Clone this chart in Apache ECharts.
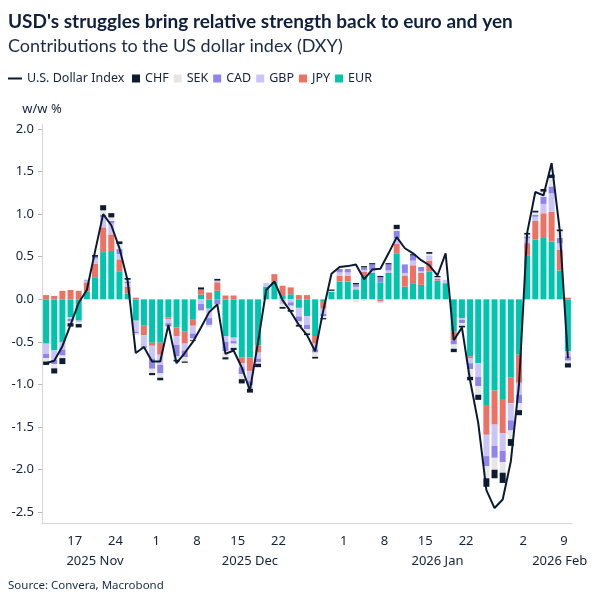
<!DOCTYPE html>
<html>
<head>
<meta charset="utf-8">
<script src="https://cdn.jsdelivr.net/npm/echarts@6/dist/echarts.min.js"></script>
<style>
  html, body { margin: 0; padding: 0; background: #fff; }
  #chart { width: 604px; height: 604px; }
</style>
</head>
<body>
<div id="chart"></div>
<script>
// business days shown on the chart
const dates = [
  '2025-11-11', '2025-11-12', '2025-11-13', '2025-11-14', '2025-11-17', '2025-11-18', '2025-11-19',
  '2025-11-20', '2025-11-21', '2025-11-24', '2025-11-25', '2025-11-26', '2025-11-27', '2025-11-28',
  '2025-12-01', '2025-12-02', '2025-12-03', '2025-12-04', '2025-12-05', '2025-12-08', '2025-12-09',
  '2025-12-10', '2025-12-11', '2025-12-12', '2025-12-15', '2025-12-16', '2025-12-17', '2025-12-18',
  '2025-12-19', '2025-12-22', '2025-12-23', '2025-12-24', '2025-12-25', '2025-12-26', '2025-12-29',
  '2025-12-30', '2025-12-31', '2026-01-01', '2026-01-02', '2026-01-05', '2026-01-06', '2026-01-07',
  '2026-01-08', '2026-01-09', '2026-01-12', '2026-01-13', '2026-01-14', '2026-01-15', '2026-01-16',
  '2026-01-19', '2026-01-20', '2026-01-21', '2026-01-22', '2026-01-23', '2026-01-26', '2026-01-27',
  '2026-01-28', '2026-01-29', '2026-01-30', '2026-02-02', '2026-02-03', '2026-02-04', '2026-02-05',
  '2026-02-06', '2026-02-09'
];

// dates that get a tick and a day label
const tickDates = [
  '2025-11-17', '2025-11-24', '2025-12-01', '2025-12-08', '2025-12-15', '2025-12-22',
  '2026-01-01', '2026-01-08', '2026-01-15', '2026-01-22', '2026-02-02', '2026-02-09'
];
// month captions (second label row)
const monthAnchors = ['2025-11-19', '2025-12-16', '2026-01-16', '2026-02-06'];
const monthNames = ['2025 Nov', '2025 Dec', '2026 Jan', '2026 Feb'];
const yTicks = [-2.5, -2, -1.5, -1, -0.5, 0, 0.5, 1, 1.5, 2];

// contributions, w/w %
const eur = [
  -0.52, -0.60, -0.50, -0.21, -0.25, 0.09, 0.26, 0.555, 0.567, 0.33, 0.07, -0.25, -0.31, -0.51,
  -0.51, -0.215, -0.33, -0.38, -0.24, 0.055, -0.11, 0.10, -0.43, -0.45, -0.68, -0.68, -0.54, 0.15,
  0.21, 0.05, 0.06, -0.10, -0.20, -0.43, -0.02, 0.09, 0.21,
  0.21, 0.117, 0.285, 0.31, 0.20, 0.31, 0.54, 0.15, 0.19, 0.17, 0.325, 0.22, 0.19, -0.38, -0.22,
  -0.67, -0.75, -1.24, -1.07, -1.17, -0.92, -0.65,
  0.51, 0.70, 0.73, 0.68, 0.34, -0.61
];
const jpy = [
  0.05, 0.04, 0.10, 0.11, 0.10, 0.11, 0.16, 0.29, 0.195, 0.14, 0.08, 0.02, -0.11, -0.035,
  -0.14, -0.015, -0.105, -0.14, -0.07, 0.06, 0.08, 0.10, 0.045, 0.045, -0.07, -0.16, -0.086, 0,
  0.086, 0.11, 0.08, 0.05, 0.05, -0.09, -0.09, 0, 0.066,
  0.066, 0, 0.04, 0, -0.02, 0, 0.11, 0.13, 0.21, 0.14, 0.13, 0.02, 0, -0.10, 0,
  -0.02, 0, -0.35, -0.40, -0.40, -0.30, -0.33,
  0.15, 0.22, 0.28, 0.35, 0.24, 0.02
];
const gbp = [
  -0.12, -0.11, -0.09, -0.02, -0.02, 0.02, 0.06, 0.12, 0.13, 0.06, 0.04, -0.13, -0.13, -0.15,
  -0.12, -0.05, -0.10, -0.08, -0.09, -0.055, -0.11, 0.02, -0.07, -0.04, -0.047, -0.12, -0.07, 0.04,
  0, -0.06, -0.035, -0.10, -0.10, -0.065, -0.06, 0, 0.04,
  0.04, 0.03, 0.02, 0.03, -0.02, 0.03, 0.07, 0.03, 0.055, 0.02, 0.06, 0.02, 0.04, 0, -0.02,
  -0.06, -0.16, -0.25, -0.25, -0.21, -0.20, -0.14,
  0.06, 0.05, 0.11, 0.215, 0.08, -0.06
];
const cad = [
  -0.05, -0.05, -0.07, -0.03, 0, 0.01, 0.02, 0.03, 0.03, 0.06, 0.02, -0.02, -0.02, -0.12,
  -0.10, -0.04, -0.135, -0.08, -0.06, -0.075, -0.08, -0.06, -0.11, -0.03, -0.08, -0.05, -0.04, 0,
  0, 0, -0.04, -0.06, -0.05, -0.04, -0.03, 0, 0.04,
  0.04, 0.03, 0.03, 0.07, 0.06, 0.07, 0.085, 0.10, 0.06, 0.05, 0, 0, 0, -0.05, -0.04,
  -0.07, -0.11, -0.12, -0.14, -0.13, -0.12, -0.10,
  0.02, 0.02, 0.085, 0.08, 0.06, -0.05
];
const sek = [
  -0.04, -0.05, -0.03, -0.02, -0.02, 0, 0, 0.05, 0.04, 0.06, 0.02, -0.02, -0.02, -0.05,
  -0.05, -0.01, -0.04, -0.05, -0.02, 0, -0.03, 0, -0.07, -0.05, -0.06, -0.04, -0.02, 0,
  0, -0.03, -0.05, -0.04, -0.05, -0.05, -0.02, 0.01, 0,
  0, -0.03, -0.02, 0, 0, 0, 0.02, 0, 0, 0, 0.02, 0, 0, -0.05, -0.03,
  -0.09, -0.10, -0.14, -0.14, -0.125, -0.10, -0.08,
  0.02, 0.03, 0.06, 0.10, 0.08, -0.03
];
const chf = [
  -0.04, -0.06, -0.07, -0.04, -0.04, 0, 0.02, 0.06, 0.05, 0.03, 0.02, 0, 0, -0.025,
  -0.03, 0, -0.02, -0.015, -0.01, 0.025, 0, 0.02, -0.025, -0.025, -0.05, -0.045, -0.04, 0,
  0, -0.02, -0.02, -0.02, -0.02, -0.02, -0.015, 0.015, 0,
  0, 0.015, 0.015, 0.015, 0.015, 0.015, 0.05, 0, 0.015, 0, 0.02, 0.015, 0, -0.04, -0.02,
  -0.04, -0.06, -0.10, -0.10, -0.12, -0.08, -0.06,
  0.02, 0.02, 0.03, 0.04, 0.02, -0.05
];
// U.S. Dollar Index, w/w %
const dxy = [
  -0.75, -0.72, -0.55, -0.30, -0.04, 0.11, 0.56, 1.00, 0.87, 0.60, 0.22, -0.63, -0.56, -0.73,
  -0.73, -0.30, -0.75, -0.63, -0.50, -0.33, -0.15, -0.06, -0.64, -0.60, -0.80, -1.07, -0.50, 0.11,
  0.21, -0.01, -0.145, -0.30, -0.42, -0.61, -0.13, 0.30, 0.38,
  0.39, 0.41, 0.235, 0.35, 0.36, 0.54, 0.73, 0.60, 0.54, 0.46, 0.40, 0.28, 0.54, -0.48, -0.33,
  -0.95, -1.45, -2.24, -2.45, -2.35, -1.90, -1.00,
  0.78, 1.26, 1.22, 1.60, 0.81, -0.69
];

const textColor = '#13223d';
const font = 'Noto Sans';
const headFont = 'Lato';

function barSeries(name, data, color) {
  return {
    name: name,
    type: 'bar',
    stack: 'contrib',
    barWidth: 6,
    data: data,
    itemStyle: { color: color },
  };
}

const myChart = echarts.init(document.getElementById('chart'));
myChart.setOption({
  animation: false,
  textStyle: { fontFamily: font, color: textColor },
  title: [
    {
      text: "USD's struggles bring relative strength back to euro and yen",
      subtext: 'Contributions to the US dollar index (DXY)',
      left: 8,
      top: 12,
      padding: 0,
      itemGap: 6,
      textStyle: { fontFamily: headFont, fontSize: 19, fontWeight: 'bold', color: '#0f1f3d' },
      subtextStyle: { fontFamily: headFont, fontSize: 18, color: '#1b2b47' },
    },
    {
      text: 'Source: Convera, Macrobond',
      left: 8,
      top: 580,
      padding: 0,
      textStyle: { fontFamily: font, fontSize: 11.5, fontWeight: 'normal', color: '#1b2b47' },
    },
  ],
  legend: [
    {
      data: ['U.S. Dollar Index'],
      left: 8,
      top: 72,
      padding: 0,
      icon: 'rect',
      itemWidth: 14,
      itemHeight: 2,
      textStyle: { fontFamily: font, fontSize: 12.5, color: textColor },
    },
    {
      data: ['CHF', 'SEK', 'CAD', 'GBP', 'JPY', 'EUR'],
      left: 132,
      top: 72,
      padding: 0,
      icon: 'rect',
      itemWidth: 8,
      itemHeight: 8,
      itemGap: 5,
      textStyle: { fontFamily: font, fontSize: 12.5, color: textColor },
    },
  ],
  grid: {
    left: 42,
    right: 32,
    top: 124.7,
    bottom: 80.6,
    containLabel: false,
    outerBoundsMode: 'none',
  },
  xAxis: [
    {
      type: 'category',
      data: dates,
      boundaryGap: true,
      axisLine: { onZero: false, lineStyle: { color: '#d6d6d6' } },
      axisTick: {
        interval: (i, v) => tickDates.includes(v),
        length: 5,
        lineStyle: { color: '#b5b5b5' },
      },
      axisLabel: {
        interval: (i, v) => tickDates.includes(v),
        formatter: (v) => String(Number(v.slice(8))),
        padding: [0, 8, 0, 0],
        margin: 11,
        fontSize: 13,
        color: textColor,
      },
      splitLine: { show: false },
    },
    {
      type: 'category',
      data: dates,
      position: 'bottom',
      offset: 20,
      axisLine: { show: false, onZero: false },
      axisTick: { show: false },
      axisLabel: {
        interval: (i, v) => monthAnchors.includes(v),
        formatter: (v) => monthNames[monthAnchors.indexOf(v)],
        margin: 11,
        fontSize: 13,
        color: textColor,
      },
      splitLine: { show: false },
    },
  ],
  yAxis: {
    type: 'value',
    min: -2.63,
    max: 2.05,
    name: 'w/w %',
    nameLocation: 'end',
    nameGap: 9,
    nameTextStyle: { fontFamily: font, fontSize: 13, color: textColor, align: 'center' },
    axisLine: { show: true, lineStyle: { color: '#d6d6d6' } },
    axisTick: { show: true, length: 4, customValues: yTicks, lineStyle: { color: '#b5b5b5' } },
    axisLabel: {
      customValues: yTicks,
      formatter: (v) => v.toFixed(1),
      fontSize: 13,
      margin: 8,
      color: textColor,
    },
    splitLine: { show: false },
  },
  series: [
    barSeries('EUR', eur, '#00c5ae'),
    barSeries('JPY', jpy, '#ee7264'),
    barSeries('GBP', gbp, '#cbc4f6'),
    barSeries('CAD', cad, '#8f84ec'),
    barSeries('SEK', sek, '#e6e6e6'),
    barSeries('CHF', chf, '#0e1c32'),
    {
      name: 'U.S. Dollar Index',
      type: 'line',
      data: dxy,
      symbol: 'none',
      z: 5,
      lineStyle: { color: '#0b1a33', width: 2 },
      itemStyle: { color: '#0b1a33' },
    },
  ],
});
</script>
</body>
</html>
